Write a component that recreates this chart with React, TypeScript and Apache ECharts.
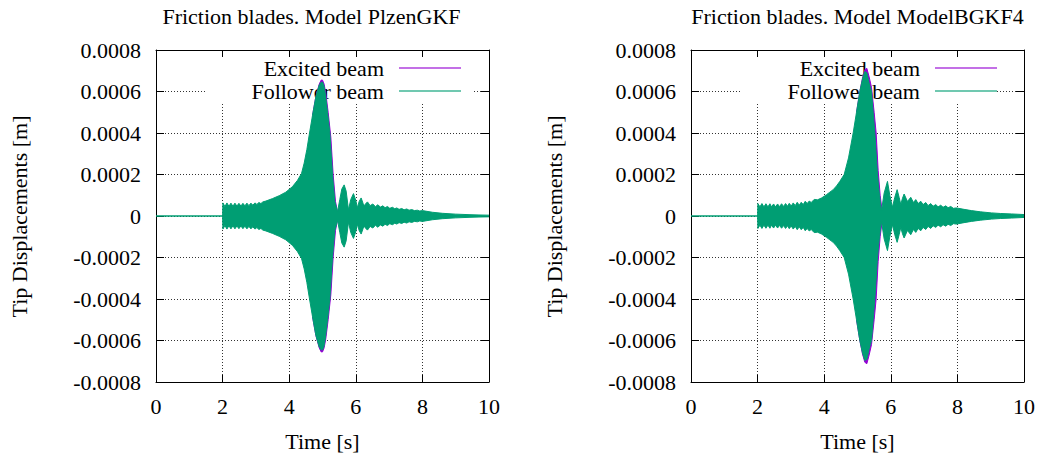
import React, { useEffect, useRef } from "react";
import * as echarts from "echarts";

// Units of amplitude arrays: 1e-4 m (envelope of the dense oscillation)
const SCALE = 1e-4;

const titles = ["Friction blades. Model PlzenGKF", "Friction blades. Model ModelBGKF4"];
const seriesNames = ["Excited beam", "Follower beam"];
const xTicks = [0, 2, 4, 6, 8, 10];
const yTicks = [-0.0008, -0.0006, -0.0004, -0.0002, 0, 0.0002, 0.0004, 0.0006, 0.0008];

// Left panel (PlzenGKF) – follower beam envelope
const leftTime = [
  0, 2.0, 2.01, 2.07, 2.13, 2.19, 2.25, 2.31, 2.37, 2.43, 2.49, 2.55, 2.61, 2.67, 2.73, 2.79, 2.85, 2.91, 2.97,
  3.03, 3.09, 3.15, 3.21, 3.3, 3.5, 3.7, 3.9, 4.1, 4.25, 4.37, 4.45, 4.53, 4.6, 4.7, 4.8, 4.9, 4.96, 5.0, 5.04, 5.08,
  5.15, 5.22, 5.3, 5.37, 5.45, 5.52, 5.58, 5.65, 5.71, 5.78, 5.85, 5.93, 6.0, 6.05, 6.1, 6.16, 6.22, 6.26,
  6.3, 6.35, 6.43, 6.51, 6.59, 6.66, 6.74, 6.81, 6.88, 6.95, 7.02, 7.1, 7.17, 7.23, 7.3, 7.38, 7.45, 7.53,
  7.6, 7.68, 7.76, 7.85, 7.92, 8.0, 8.3, 8.6, 9.0, 9.4, 9.7, 10.0,
];
const leftFollower = [
  0, 0, 0.63, 0.46, 0.63, 0.47, 0.62, 0.47, 0.62, 0.48, 0.61, 0.48, 0.61, 0.49, 0.62, 0.5, 0.62, 0.52, 0.63,
  0.56, 0.65, 0.6, 0.68, 0.72, 0.84, 0.98, 1.15, 1.42, 1.72, 2.05, 2.55, 3.2, 3.9, 4.85, 5.75, 6.3, 6.45, 6.45, 6.3, 5.95,
  5.0, 4.0, 2.0, 0.7, 0.2, 0.8, 1.3, 1.5, 1.2, 0.3, 0.8, 1.08, 0.75, 0.4, 0.7, 0.87, 0.6, 0.5,
  0.6, 0.68, 0.5, 0.58, 0.45, 0.54, 0.43, 0.49, 0.4, 0.46, 0.37, 0.42, 0.35, 0.39, 0.32, 0.36, 0.3, 0.34,
  0.28, 0.31, 0.26, 0.28, 0.24, 0.26, 0.18, 0.13, 0.09, 0.065, 0.05, 0.04,
];
// Left panel – excited beam, around the peak (elsewhere it lies under the follower)
const leftExcTime = [4.7, 4.8, 4.9, 4.96, 5.0, 5.05, 5.1, 5.17, 5.25, 5.32, 5.39, 5.45];
const leftExcited = [4.85, 5.75, 6.35, 6.55, 6.55, 6.35, 5.9, 5.0, 3.8, 2.0, 0.7, 0.2];

// Right panel (ModelBGKF4) – follower beam envelope
const rightTime = [
  0, 2.0, 2.01, 2.07, 2.13, 2.19, 2.25, 2.31, 2.37, 2.42, 2.48, 2.54, 2.6, 2.66, 2.72, 2.78, 2.84, 2.9, 2.95,
  3.01, 3.07, 3.13, 3.19, 3.25, 3.31, 3.37, 3.43, 3.49, 3.55, 3.61, 3.7, 3.8, 3.92, 4.0, 4.07, 4.17, 4.27,
  4.37, 4.47, 4.6, 4.73, 4.87, 4.97, 5.07, 5.15, 5.22, 5.28, 5.35, 5.42, 5.52, 5.6, 5.66, 5.72, 5.8, 5.9,
  5.97, 6.05, 6.12, 6.19, 6.25, 6.3, 6.35, 6.4, 6.5, 6.6, 6.68, 6.75, 6.82, 6.9, 6.97, 7.05, 7.12, 7.2,
  7.27, 7.35, 7.42, 7.5, 7.57, 7.65, 7.72, 7.8, 7.88, 7.97, 8.2, 8.42, 8.7, 9.02, 9.3, 9.62, 10.0,
];
const rightFollower = [
  0, 0, 0.6, 0.44, 0.6, 0.44, 0.59, 0.44, 0.59, 0.44, 0.58, 0.44, 0.58, 0.45, 0.59, 0.46, 0.6, 0.47, 0.61,
  0.48, 0.63, 0.5, 0.66, 0.52, 0.66, 0.55, 0.71, 0.6, 0.72, 0.65, 0.8, 0.78, 0.87, 0.95, 1.03, 1.15, 1.27,
  1.45, 1.67, 2.0, 2.8, 4.0, 5.0, 6.0, 6.6, 6.96, 6.9, 6.4, 6.0, 4.0, 2.0, 1.0, 0.25, 1.1, 1.67,
  1.0, 0.42, 0.9, 1.27, 0.9, 0.55, 0.85, 1.06, 0.7, 0.9, 0.65, 0.79, 0.6, 0.71, 0.55, 0.65, 0.5, 0.6,
  0.47, 0.55, 0.44, 0.52, 0.42, 0.49, 0.4, 0.46, 0.37, 0.39, 0.32, 0.26, 0.2, 0.15, 0.12, 0.1, 0.07,
];
// Right panel – excited beam, around the peak
const rightExcTime = [4.97, 5.07, 5.15, 5.22, 5.28, 5.35, 5.42, 5.5, 5.56, 5.62, 5.68, 5.74];
const rightExcited = [5.0, 6.0, 6.65, 7.05, 7.12, 6.7, 6.2, 5.0, 4.0, 2.2, 1.0, 0.25];

const PURPLE = "#9400d3";
const GREEN = "#009e73";
const FONT = "'Liberation Serif', 'DejaVu Serif', 'Times New Roman', serif";
const FS = 22;

const panels = [
  { left: 156, top: 50, width: 333, height: 332, title: titles[0], time: leftTime, fol: leftFollower, excT: leftExcTime, exc: leftExcited, titleX: 311.5, yNameX: 19, legendTextRight: 384, legendLine: [399, 461], legendBox: [205, 474] },
  { left: 691, top: 50, width: 333, height: 332, title: titles[1], time: rightTime, fol: rightFollower, excT: rightExcTime, exc: rightExcited, titleX: 857.5, yNameX: 554, legendTextRight: 920, legendLine: [935, 997], legendBox: [740, 996] },
];

function fmtY(v: number) {
  if (Math.abs(v) < 1e-12) return "0";
  return v.toFixed(4);
}

export default function App() {
  const ref = useRef<HTMLDivElement>(null);
  useEffect(() => {
    if (!ref.current) return;
    const chart = echarts.init(ref.current, undefined, { renderer: "svg" });

    const grid = panels.map((p) => ({ left: p.left, top: p.top, width: p.width, height: p.height, containLabel: false }));

    const splitStyle = { show: true, lineStyle: { color: "#333", width: 1, type: [1, 2] as any } };
    const axisLine = { show: true, onZero: false, lineStyle: { color: "#000", width: 1 } };

    const xAxis: any[] = [];
    const yAxis: any[] = [];
    panels.forEach((_, i) => {
      xAxis.push({
        type: "value", gridIndex: i, min: 0, max: 10, interval: 2, position: "bottom",
        axisLine, axisTick: { show: true, inside: true, length: 7, lineStyle: { color: "#000" } },
        axisLabel: { show: true, margin: 13, color: "#000", fontFamily: FONT, fontSize: FS, formatter: (v: number) => (xTicks.includes(v) ? String(v) : "") },
        splitLine: splitStyle,
      });
    });
    panels.forEach((_, i) => {
      xAxis.push({
        type: "value", gridIndex: i, min: 0, max: 10, interval: 2, position: "top",
        axisLine, axisTick: { show: true, inside: true, length: 7, lineStyle: { color: "#000" } },
        axisLabel: { show: false }, splitLine: { show: false },
      });
    });
    panels.forEach((_, i) => {
      yAxis.push({
        type: "value", gridIndex: i, min: -0.0008, max: 0.0008, interval: 0.0002, position: "left",
        axisLine, axisTick: { show: true, inside: true, length: 8, lineStyle: { color: "#000" } },
        axisLabel: { show: true, margin: 15, color: "#000", fontFamily: FONT, fontSize: FS, formatter: (v: number) => (yTicks.some((t) => Math.abs(t - v) < 1e-9) ? fmtY(v) : "") },
        splitLine: splitStyle,
      });
    });
    panels.forEach((_, i) => {
      yAxis.push({
        type: "value", gridIndex: i, min: -0.0008, max: 0.0008, interval: 0.0002, position: "right",
        axisLine, axisTick: { show: true, inside: true, length: 8, lineStyle: { color: "#000" } },
        axisLabel: { show: false }, splitLine: { show: false },
      });
    });

    const series: any[] = [];
    const mk = (i: number, times: number[], amps: number[], sign: number, color: string, z: number) => ({
      type: "line", xAxisIndex: i, yAxisIndex: i, z,
      data: times.map((t, k) => [t, sign * amps[k] * SCALE]),
      symbol: "none", smooth: false, silent: true,
      lineStyle: { color, width: 1 },
      areaStyle: { color, opacity: 1 },
    });
    panels.forEach((p, i) => {
      series.push(mk(i, p.excT, p.exc, 1, PURPLE, 2));
      series.push(mk(i, p.excT, p.exc, -1, PURPLE, 2));
      series.push(mk(i, p.time, p.fol, 1, GREEN, 3));
      series.push(mk(i, p.time, p.fol, -1, GREEN, 3));
    });

    const graphic: any[] = [];
    panels.forEach((p) => {
      const cx = p.left + p.width / 2;
      graphic.push({ type: "text", x: p.titleX, y: 16, z: 5, style: { text: p.title, font: `${FS}px ${FONT}`, fill: "#000", textAlign: "center", textVerticalAlign: "middle" } });
      graphic.push({ type: "text", x: cx, y: 441, z: 5, style: { text: "Time [s]", font: `${FS}px ${FONT}`, fill: "#000", textAlign: "center", textVerticalAlign: "middle" } });
      graphic.push({ type: "text", x: p.yNameX, y: 216.5, rotation: Math.PI / 2, z: 5, style: { text: "Tip Displacements [m]", font: `${FS}px ${FONT}`, fill: "#000", textAlign: "center", textVerticalAlign: "middle" } });
      // opaque legend box
      graphic.push({ type: "rect", z: 1, shape: { x: p.legendBox[0], y: 57, width: p.legendBox[1] - p.legendBox[0], height: 46 }, style: { fill: "#fff" } });
      seriesNames.forEach((name, k) => {
        const y = 68 + k * 23;
        graphic.push({ type: "text", x: p.legendTextRight, y, z: 1, style: { text: name, font: `${FS}px ${FONT}`, fill: "#000", textAlign: "right", textVerticalAlign: "middle" } });
        graphic.push({ type: "line", z: 1, shape: { x1: p.legendLine[0], y1: y, x2: p.legendLine[1], y2: y }, style: { stroke: k === 0 ? PURPLE : GREEN, lineWidth: 1.5, opacity: 0.75 } });
      });
    });

    chart.setOption({ animation: false, backgroundColor: "#fff", grid, xAxis, yAxis, series, graphic });
    return () => chart.dispose();
  }, []);
  return <div ref={ref} style={{ position: "fixed", left: 0, top: 0, width: 1042, height: 455 }} />;
}
